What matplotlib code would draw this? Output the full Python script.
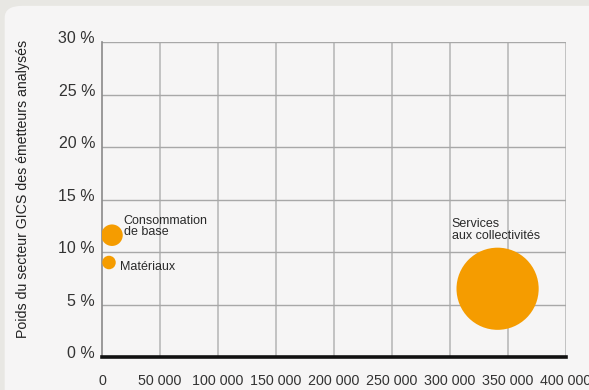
import matplotlib.pyplot as plt
import matplotlib.transforms as mtransforms
from matplotlib.patches import FancyBboxPatch
from matplotlib.ticker import FuncFormatter

plt.rcParams['font.family'] = ['Liberation Sans', 'DejaVu Sans']

# secteurs GICS : nombre d'emetteurs (x), poids du secteur (y), taille de bulle
secteurs = ['Consommation\nde base', 'Matériaux', 'Services\naux collectivités']
x_vals = [8600, 6000, 341000]
poids = [11.6, 9.0, 6.5]
tailles = [240, 95, 3500]

x_ticks = [0, 50000, 100000, 150000, 200000, 250000, 300000, 350000, 400000]
y_ticks = [0, 5, 10, 15, 20, 25, 30]

orange = '#f59c00'

fig = plt.figure(figsize=(5.89, 3.9), dpi=100)
fig.patch.set_facecolor('#e8e7e3')
panel = FancyBboxPatch((0.008, -0.05), 1.05, 1.035, transform=fig.transFigure,
                       boxstyle='round,pad=0,rounding_size=0.03',
                       facecolor='#f6f5f5', edgecolor='none', zorder=-5)
fig.patches.append(panel)

ax = fig.add_axes([0.1732, 0.0846, 0.7878, 0.8077])
ax.set_facecolor('none')
ax.set_xlim(0, 400000)
ax.set_ylim(0, 30)

ax.scatter(x_vals, poids, s=tailles, color=orange, edgecolors='none', zorder=3)

ax.set_xticks(x_ticks)
ax.set_yticks(y_ticks)
ax.xaxis.set_major_formatter(FuncFormatter(lambda v, p: f'{int(v):,}'.replace(',', ' ')))
ax.yaxis.set_major_formatter(FuncFormatter(lambda v, p: f'{int(v)} %'))
ax.tick_params(length=0, colors='#333333')
ax.tick_params(axis='x', labelsize=10.3, pad=12)
ax.tick_params(axis='y', labelsize=11.5, pad=5)

# libelles des ordonnees legerement au-dessus des lignes
offset = mtransforms.ScaledTranslation(0, 5 / 100, fig.dpi_scale_trans)
for lab in ax.get_yticklabels():
    lab.set_transform(lab.get_transform() + offset)

for v in x_ticks[1:]:
    ax.axvline(v, color='#c2c2c2', lw=1.4, zorder=1)
for v in y_ticks[1:]:
    ax.axhline(v, color='#a8a8a8', lw=1.0, zorder=1)

for side in ['top', 'right']:
    ax.spines[side].set_visible(False)
ax.spines['left'].set_color('#8a8a8a')
ax.spines['left'].set_linewidth(1.2)
ax.spines['bottom'].set_color('#111111')
ax.spines['bottom'].set_linewidth(2.6)
ax.spines['bottom'].set_zorder(4)

ax.set_ylabel('Poids du secteur GICS des émetteurs analysés', fontsize=10.2,
              color='#222222')
ax.yaxis.set_label_coords(-0.155, 0.535)

ax.annotate(secteurs[0], (x_vals[0], poids[0]), xytext=(8.5, 6), textcoords='offset points',
            fontsize=9, color='#2a2a2a', va='center', ha='left', linespacing=0.9)
ax.annotate(secteurs[1], (x_vals[1], poids[1]), xytext=(8, -3), textcoords='offset points',
            fontsize=9, color='#2a2a2a', va='center', ha='left')
ax.annotate(secteurs[2], (x_vals[2], poids[2]), xytext=(-33, 34), textcoords='offset points',
            fontsize=9, color='#2a2a2a', va='bottom', ha='left', linespacing=0.9)

fig.savefig('out.png', dpi=100, facecolor=fig.get_facecolor())
